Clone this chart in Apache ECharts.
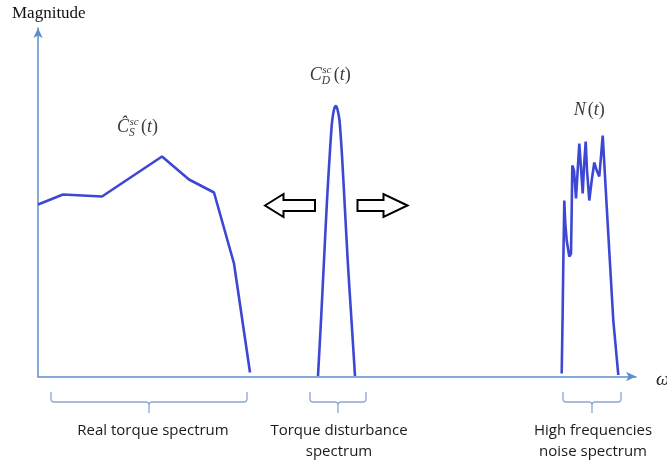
<!DOCTYPE html>
<html><head><meta charset="utf-8">
<script src="https://cdn.jsdelivr.net/npm/echarts@6/dist/echarts.min.js"></script>
<style>html,body{margin:0;padding:0;background:#fff}#c{width:667px;height:465px}</style>
</head><body><div id="c"></div>
<script>
// Real torque spectrum
const realX = [0, 25, 64, 124, 151, 176, 196, 212];
const realY = [172, 182, 180, 220, 197, 184, 113, 4];
// Torque disturbance spectrum
const distX = [280, 283, 286, 289, 292, 294, 296, 297.7, 299.5, 301.5, 304, 307, 310, 313.5, 317];
const distY = [0.5, 56, 116, 176, 226, 254, 267, 270.5, 267, 256, 221, 166, 111, 56, 0.5];
// High frequencies noise spectrum
const noiseX = [523.7, 524.7, 525.3, 526.3, 527.3, 528.7, 531.3, 533, 533.7, 534.3, 536, 538, 539.3, 541.3, 542.7, 544.7, 546, 547.7, 549, 551.3, 553.7, 556.3, 558.7, 561.3, 563, 564.7, 566.3, 568.7, 572, 575.3, 580.3];
const noiseY = [3, 66, 113, 176, 153, 136, 120, 123, 166, 211, 206, 178, 200, 233, 213, 183, 210, 235, 206, 176, 196, 214, 206, 200, 220, 241, 213, 170, 113, 56, 1.5];
const bandLabels = ['Real torque spectrum', 'Torque disturbance\nspectrum', 'High frequencies\nnoise spectrum'];
const bandRanges = [[13, 209], [272, 328], [525, 583]];

const zip = (xs, ys) => xs.map((x, i) => [x, ys[i]]);
const chart = echarts.init(document.getElementById('c'), null, {renderer: 'canvas'});
const lineColor = '#3c47d4';
const axisColor = '#5b8fcb';
const mk = (xs, ys, smooth) => ({
  type: 'line', data: zip(xs, ys), showSymbol: false, smooth: smooth,
  lineStyle: {color: lineColor, width: 2.6}, animation: false, z: 3
});
chart.setOption({
  animation: false,
  grid: {left: 38, right: 31, top: 28, bottom: 88.5},
  xAxis: {type: 'value', min: 0, max: 598, axisLine: {show: true, symbol: ['none', 'arrow'], symbolSize: [7, 10], lineStyle: {color: axisColor, width: 1.5}},
    axisTick: {show: false}, axisLabel: {show: false}, splitLine: {show: false}},
  yAxis: {type: 'value', min: 0, max: 348.5, axisLine: {show: true, symbol: ['none', 'arrow'], symbolSize: [7, 10], lineStyle: {color: axisColor, width: 1.5}},
    axisTick: {show: false}, axisLabel: {show: false}, splitLine: {show: false}},
  series: [mk(realX, realY, false), mk(distX, distY, 0.25), mk(noiseX, noiseY, false)]
});

const P = (x, y) => chart.convertToPixel({gridIndex: 0}, [x, y]);
const g = [];
const serif = '"Liberation Serif", "DejaVu Serif", serif';
const sans = '"Open Sans", "Liberation Sans", sans-serif';
const mathCol = '#3a3a3a';
g.push({type: 'text', x: 12, y: 5, style: {text: 'Magnitude', font: '17px ' + serif, fill: '#111'}});
g.push({type: 'text', x: 656, y: 370, style: {text: 'ω', font: 'italic 19px ' + serif, fill: '#222'}});

function mathLabel(x, y, base, sup, sub) {
  g.push({type: 'text', x: x, y: y, style: {text: base, font: 'italic 18px ' + serif, fill: mathCol, verticalAlign: 'middle'}});
  let tx = x + 14;
  if (sup) {
    g.push({type: 'text', x: x + 12.5, y: y - 5, style: {text: sup, font: 'italic 11px ' + serif, fill: mathCol, verticalAlign: 'middle'}});
    g.push({type: 'text', x: x + 12, y: y + 5.5, style: {text: sub, font: 'italic 11.5px ' + serif, fill: mathCol, verticalAlign: 'middle'}});
    tx = x + 24;
  }
  g.push({type: 'text', x: tx, y: y, style: {rich: {n: {font: '18px ' + serif, fill: mathCol}, i: {font: 'italic 18px ' + serif, fill: mathCol}}, text: '{n|(}{i|t}{n|)}', verticalAlign: 'middle'}});
}
function render() {
  let p = P(realX[3], realY[3]);
  mathLabel(p[0] - 45, p[1] - 29, 'Ĉ', 'sc', 'S');
  p = P(distX[7], distY[7]);
  mathLabel(p[0] - 26, p[1] - 31, 'C', 'sc', 'D');
  p = P(noiseX[25], noiseY[25]);
  mathLabel(p[0] - 29, p[1] - 25, 'N', null, null);
  // hollow arrows either side of the disturbance peak
  const ay = P(0, 171)[1];
  function arrow(tipX, baseX, tailX) {
    const pts = [[tipX, ay], [baseX, ay - 11.5], [baseX, ay - 5.5], [tailX, ay - 5.5], [tailX, ay + 5.5], [baseX, ay + 5.5], [baseX, ay + 11.5]];
    g.push({type: 'polygon', shape: {points: pts}, style: {fill: '#fff', stroke: '#000', lineWidth: 2}});
  }
  arrow(265, 283.5, 315);
  arrow(407.5, 383.5, 357.5);
  // braces
  bandRanges.forEach((r, i) => {
    const x0 = P(r[0], 0)[0], x1 = P(r[1], 0)[0];
    const xm = (x0 + x1) / 2;
    const top = 392, mid = 402, bot = 413;
    const st = {fill: null, stroke: '#8aa6cf', lineWidth: 1.3};
    g.push({type: 'polyline', shape: {points: [[x0, top], [x0, mid - 2.5], [x0 + 0.8, mid - 0.8], [x0 + 2.5, mid], [xm - 2.5, mid], [xm - 0.8, mid + 0.8], [xm, mid + 2.5], [xm, bot]]}, style: st});
    g.push({type: 'polyline', shape: {points: [[xm, mid + 2.5], [xm + 0.8, mid + 0.8], [xm + 2.5, mid], [x1 - 2.5, mid], [x1 - 0.8, mid - 0.8], [x1, mid - 2.5], [x1, top]]}, style: st});
    g.push({type: 'text', x: xm + (i === 0 ? 4 : 1), y: 420, style: {text: bandLabels[i], font: '15px ' + sans, fill: '#1a1a1a', align: 'center', verticalAlign: 'top', lineHeight: 21}});
  });
  chart.setOption({graphic: g});
}
render();
</script></body></html>
